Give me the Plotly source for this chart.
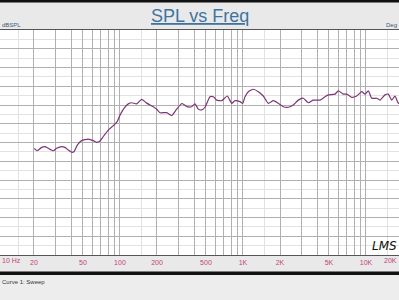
import numpy as np
import plotly.graph_objects as go

# ---------------- data ----------------
freq_hz = [20.1, 21.3, 23.1, 24.6, 26.1, 28.7, 30.6, 33.6, 35.7, 38.0,
           40.5, 42.3, 45.0, 48.8, 55.3, 60.7, 64.7, 68.8, 73.2, 80.4,
           88.3, 94.6, 100.1, 107.8, 116.9, 124.6, 136.8, 150.2, 165.0, 186.6,
           200.0, 211.6, 239.9, 263.4, 289.2, 319.4, 350.8, 383.0, 407.4, 433.4,
           461.8, 491.2, 539.4, 573.8, 611.6, 671.4, 745.6, 810.0, 861.0, 946.0,
           995.0, 1039, 1105, 1214, 1333, 1463, 1607, 1765, 1937, 2128,
           2337, 2566, 2818, 3094, 3398, 3730, 4230, 4646, 4940, 5600,
           5958, 6540, 6970, 7654, 8408, 9232, 9820, 10448, 11132, 12228,
           13002, 14280, 15190, 16186, 17220, 18316, 19630]
spl_db = [68.45, 67.8, 68.7, 68.9, 68.45, 67.8, 68.45, 68.9, 68.7, 68.0,
          67.4, 67.55, 69.3, 70.5, 70.9, 70.5, 70.05, 70.4, 71.6, 73.3,
          74.5, 75.5, 77.3, 79.1, 80.3, 80.6, 80.3, 81.5, 80.5, 79.55,
          78.8, 77.95, 77.95, 77.2, 78.9, 80.4, 79.55, 79.55, 80.3, 78.9,
          78.7, 79.4, 82.2, 82.2, 81.3, 81.15, 82.4, 80.45, 81.15, 80.9,
          80.4, 82.2, 83.55, 84.2, 83.55, 82.4, 80.45, 81.15, 80.45, 79.55,
          79.4, 80.0, 81.3, 81.8, 80.6, 81.3, 81.3, 82.2, 82.7, 82.9,
          83.8, 82.9, 82.9, 82.05, 82.4, 83.55, 82.9, 83.8, 81.8, 81.8,
          81.3, 82.7, 82.9, 81.3, 82.4, 80.45, 81.3]

grid_freqs = [20, 30, 40, 50, 60, 70, 80, 90,
              100, 200, 300, 400, 500, 600, 700, 800, 900,
              1000, 2000, 3000, 4000, 5000, 6000, 7000, 8000, 9000, 10000]
grid_labels = ["20", "", "", "50", "", "", "", "",
               "100", "200", "", "", "500", "", "", "", "",
               "1K", "2K", "", "", "5K", "", "", "", "",
               "10K"]
half_freqs = [15, 150, 1500, 15000]
edge_labels = ["10 Hz", "20K"]

ref_level_db = 70
y_min, y_max = 40, 100
f_left, f_right = 10.59, 18550

title_text = "SPL vs Freq"
curve_name = "Curve 1: Sweep"

# ---------------- figure ----------------
W, H = 399, 300
T, B = 30, 45
plot_h = H - T - B

label_col = "#c2457a"
grid_dark = "#b0b0b0"
grid_light = "#e2e2e2"

fig = go.Figure()
fig.add_trace(go.Scatter(
    x=freq_hz, y=spl_db, mode="lines",
    line=dict(color="#7d3474", width=1.2, shape="spline", smoothing=0.5),
    showlegend=False, hoverinfo="skip"))

fig.add_hline(y=ref_level_db, line=dict(color="#dc9ad2", width=1), layer="below")

fig.update_layout(
    width=W, height=H,
    margin=dict(l=0, r=0, t=T, b=B, pad=0),
    paper_bgcolor="#e9e9e9",
    plot_bgcolor="#ffffff",
    showlegend=False,
    xaxis=dict(
        type="log", range=[np.log10(f_left), np.log10(f_right)],
        tickmode="array", tickvals=grid_freqs, ticktext=grid_labels,
        showgrid=True, gridcolor=grid_dark, gridwidth=1,
        minor=dict(tickmode="array", tickvals=half_freqs, showgrid=True,
                   gridcolor=grid_light, gridwidth=1, ticks=""),
        ticks="", ticklabelstandoff=1,
        tickfont=dict(family="Liberation Sans", size=7, color=label_col),
        showline=True, linecolor="#555555", linewidth=1, mirror=True,
        zeroline=False, fixedrange=True,
    ),
    yaxis=dict(
        range=[y_min, y_max], dtick=5, tick0=0,
        showgrid=True, gridcolor=grid_dark, gridwidth=1,
        minor=dict(dtick=2.5, showgrid=True, gridcolor=grid_light, gridwidth=1, ticks=""),
        showticklabels=False, ticks="",
        showline=True, linecolor="#555555", linewidth=1, mirror=True,
        zeroline=False, fixedrange=True,
    ),
    font=dict(family="Liberation Sans"),
)

def py(px):
    """pixel row -> paper y coordinate for layout decorations"""
    return (H - B - px) / plot_h

# top black strip and bottom black separator
fig.add_shape(type="rect", xref="paper", yref="paper", x0=-0.01, x1=1.01,
              y0=py(2.5), y1=py(-2), fillcolor="#111111", line=dict(width=0), layer="above")
fig.add_shape(type="rect", xref="paper", yref="paper", x0=-0.01, x1=1.01,
              y0=py(275), y1=py(271.5), fillcolor="#111111", line=dict(width=0), layer="above")
fig.add_shape(type="rect", xref="paper", yref="paper", x0=-0.01, x1=1.01,
              y0=py(301), y1=py(275), fillcolor="#ededed", line=dict(width=0), layer="below")

# title
fig.add_annotation(text="<u>" + title_text + "</u>", xref="paper", yref="paper",
                   x=0.5, y=py(16), xanchor="center", yanchor="middle", showarrow=False,
                   font=dict(family="Liberation Sans", size=18, color="#3f74a0"))
# axis unit labels
fig.add_annotation(text="dBSPL", xref="paper", yref="paper", x=0.0, y=py(25),
                   xanchor="left", yanchor="middle", showarrow=False,
                   font=dict(family="Liberation Sans", size=6, color="#3a5a78"))
fig.add_annotation(text="Deg", xref="paper", yref="paper", x=1.0, y=py(25),
                   xanchor="right", yanchor="middle", showarrow=False,
                   font=dict(family="Liberation Sans", size=6, color="#3a5a78"))
# edge frequency labels (at the picture's borders)
fig.add_annotation(text=edge_labels[0], xref="paper", yref="paper", x=0.0, y=py(260),
                   xanchor="left", yanchor="middle", showarrow=False,
                   font=dict(family="Liberation Sans", size=7, color=label_col))
fig.add_annotation(text=edge_labels[1], xref="paper", yref="paper", x=1.0, y=py(260),
                   xanchor="right", yanchor="middle", showarrow=False,
                   font=dict(family="Liberation Sans", size=7, color=label_col))
# curve legend
fig.add_annotation(text=curve_name, xref="paper", yref="paper", x=0.0, y=py(282),
                   xanchor="left", yanchor="middle", showarrow=False,
                   font=dict(family="Liberation Sans", size=6, color="#333333"))
# LMS logo
fig.add_annotation(text="<i>LMS</i>", xref="paper", yref="paper", x=1.0, y=py(246),
                   xanchor="right", yanchor="middle", showarrow=False,
                   font=dict(family="DejaVu Sans", size=12, color="#111111"))

fig.write_html("out.html")
